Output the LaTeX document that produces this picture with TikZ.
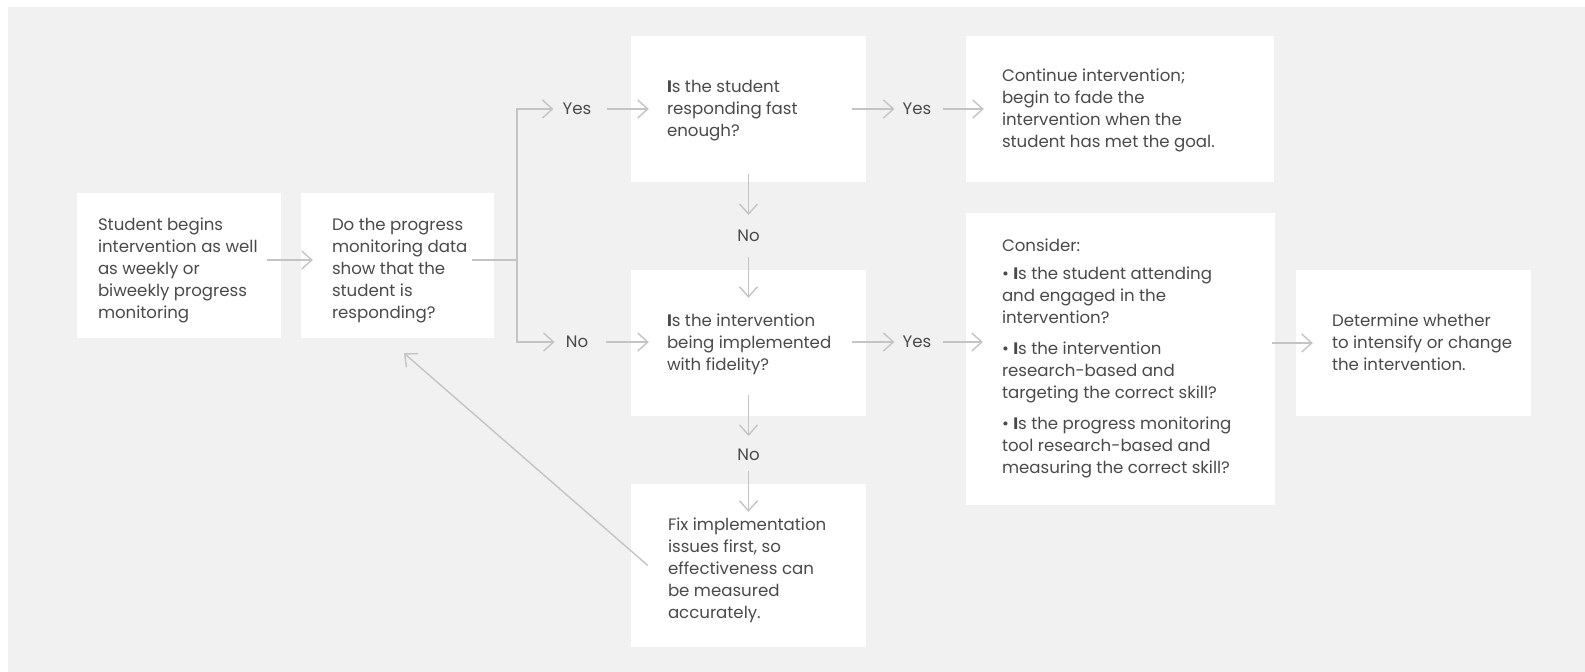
\documentclass[tikz,border=0pt]{standalone}
\usepackage{fontspec}
\setmainfont{Poppins}
\usetikzlibrary{arrows.meta}

\definecolor{pagegray}{HTML}{F1F1F1}
\definecolor{linegray}{HTML}{C4C4C4}
\definecolor{textgray}{HTML}{4A4A4A}

\tikzset{
  box/.style={fill=white, inner sep=0pt, minimum width=235pt, minimum height=146pt},
  note/.style={text=textgray, align=left, inner sep=0pt, anchor=north west,
    font=\fontsize{16.6}{22}\selectfont},
  answer/.style={text=textgray, inner sep=0pt, text depth=0pt, font=\fontsize{16.6}{22}\selectfont},
  trunk/.style={draw=linegray, line width=1.4pt},
  link/.style={trunk, -{Straight Barb[length=10pt,width=18pt]}},
}

\begin{document}
\begin{tikzpicture}[x=1pt, y=-1pt]
            \useasboundingbox (0,0) rectangle (1585,672);
            \fill[pagegray] (8,7) rectangle (1585,672);

            % boxes
            \node[box, minimum width=204pt, minimum height=145pt] (start) at (179,265.5) {};
            \node[box, minimum width=193pt, minimum height=145pt] (data) at (397.5,265.5) {};
            \node[box] (fast) at (748.5,109) {};
            \node[box, minimum width=308pt] (goal) at (1120,109) {};
            \node[box] (fidelity) at (748.5,343) {};
            \node[box, minimum width=309pt, minimum height=292pt] (consider) at (1120.5,359) {};
            \node[box] (decide) at (1413.5,343) {};
            \node[box, minimum height=163pt] (fix) at (748.5,565.5) {};

            % texts
            \node[note] (start-txt) at ([xshift=21pt, yshift=-22.1pt]start.north west)
              {\strut Student begins\\intervention as well\\as weekly or\\biweekly progress\\monitoring};
            \node[note] (data-txt) at ([xshift=31pt, yshift=-22.1pt]data.north west)
              {\strut Do the progress\\monitoring data\\show that the\\student is\\responding?};
            \node[note] (fast-txt) at ([xshift=36pt, yshift=-41.1pt]fast.north west)
              {\strut\textbf{I}s the student\\responding fast\\enough?};
            \node[note] (goal-txt) at ([xshift=36pt, yshift=-30.1pt]goal.north west)
              {\strut Continue intervention;\\begin to fade the\\intervention when the\\student has met the goal.};
            \node[note] (fidelity-txt) at ([xshift=36pt, yshift=-41.1pt]fidelity.north west)
              {\strut\textbf{I}s the intervention\\being implemented\\with fidelity?};
            \node[note] (consider-txt) at ([xshift=36pt, yshift=-23.1pt]consider.north west)
              {\strut Consider:\\[6pt]
               • \textbf{I}s the student attending\\and engaged in the\\intervention?\\[9pt]
               • \textbf{I}s the intervention\\research-based and\\targeting the correct skill?\\[9pt]
               • \textbf{I}s the progress monitoring\\tool research-based and\\measuring the correct skill?};
            \node[note] (decide-txt) at ([xshift=36pt, yshift=-41.1pt]decide.north west)
              {\strut Determine whether\\to intensify or change\\the intervention.};
            \node[note] (fix-txt) at ([xshift=37pt, yshift=-30.6pt]fix.north west)
              {\strut Fix implementation\\issues first, so\\effectiveness can\\be measured\\accurately.};

            % answers
            \node[answer] (yes1) at (577,109) {Yes};
            \node[answer] (no1) at (577,342) {No};
            \node[answer] (yes2) at (917,109) {Yes};
            \node[answer] (yes3) at (917,342) {Yes};
            \node[answer] (no2) at (748.5,236) {No};
            \node[answer] (no3) at (748.5,455) {No};

            % connectors
            \coordinate (split) at (517,260);
            \draw[link, shorten <=-14pt, shorten >=-12pt] (start.east |- split) -- (data.west |- split);
            \draw[trunk, shorten <=-22pt] (data.east |- split) -- (split);
            \draw[link, shorten >=9pt] (split) |- (yes1);
            \draw[link, shorten >=11pt] (split) |- (no1);
            \draw[link, shorten <=15pt, shorten >=-18pt] (yes1) -- (fast.west |- yes1);
            \draw[link, shorten <=18pt, shorten >=-18pt] (no1) -- (fidelity.west |- no1);
            \draw[link, shorten <=-14pt, shorten >=8pt] (fast.east |- yes2) -- (yes2);
            \draw[link, shorten <=11pt, shorten >=-18pt] (yes2) -- (goal.west |- yes2);
            \draw[link, shorten <=-14pt, shorten >=8pt] (fidelity.east |- yes3) -- (yes3);
            \draw[link, shorten <=11pt, shorten >=-17pt] (yes3) -- (consider.west |- yes3);
            \draw[link, shorten <=-3pt, shorten >=-17pt] (consider.east |- decide) -- (decide.west);
            \draw[link, shorten <=-8pt, shorten >=15pt] (fast.south) -- (no2);
            \draw[link, shorten <=15pt, shorten >=-28pt] (no2) -- (fidelity.north);
            \draw[link, shorten <=-21pt, shorten >=13pt] (fidelity.south) -- (no3);
            \draw[link, shorten <=10pt, shorten >=-28pt] (no3) -- (fix.north);
            \draw[link] ([xshift=17pt]fix.west) -- ([xshift=6.5pt,yshift=-15pt]data.south);
\end{tikzpicture}
\end{document}
